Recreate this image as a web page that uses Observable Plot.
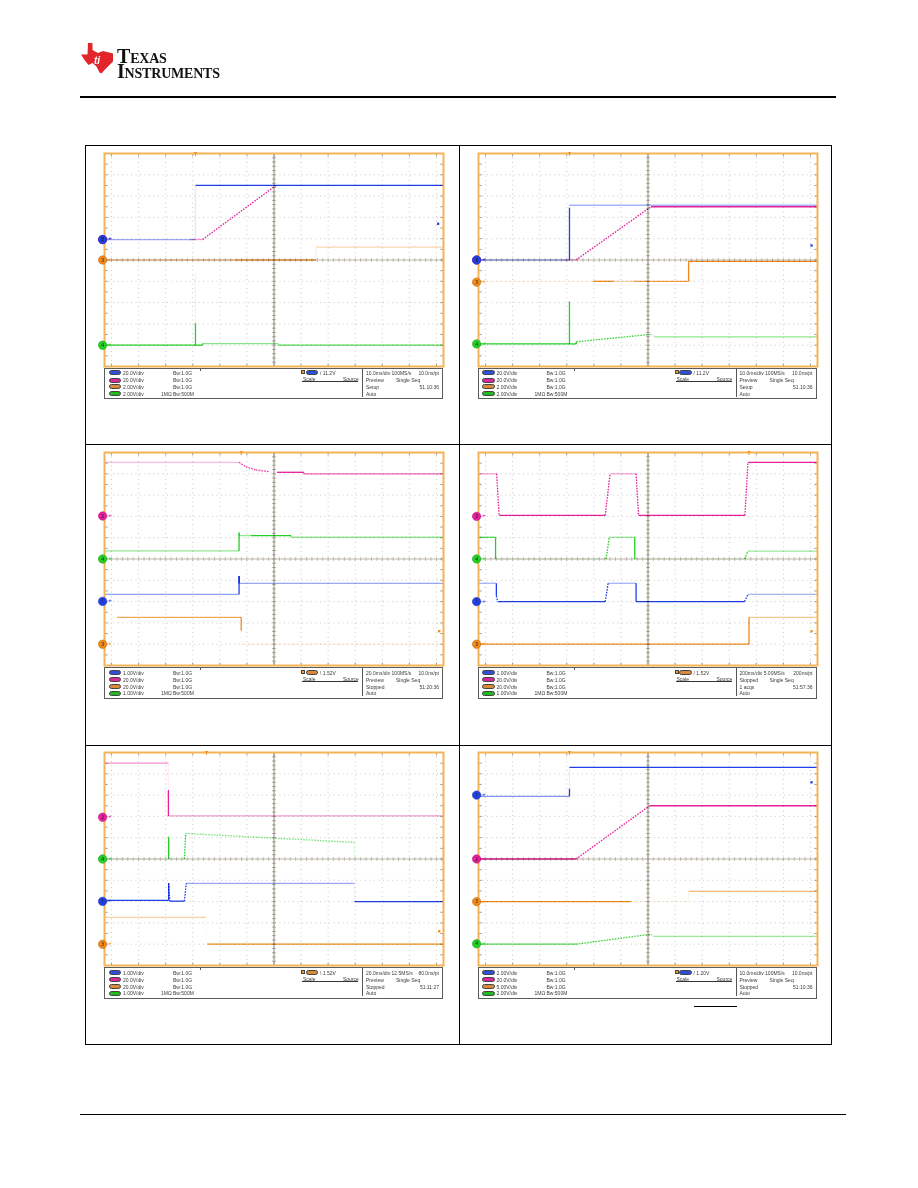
<!DOCTYPE html>
<html><head><meta charset="utf-8">
<script src="https://cdn.jsdelivr.net/npm/d3@7"></script>
<script src="https://cdn.jsdelivr.net/npm/@observablehq/plot@0.6"></script>
<style>
html,body{margin:0;padding:0;background:#fff}
#page{position:relative;width:918px;height:1188px;overflow:hidden;font-family:"Liberation Sans",Arial,sans-serif;background:#fff}
.bar{position:absolute;background:#000}
.legend{position:absolute;border:1.5px solid #5c5c5c;box-sizing:border-box;background:#fff}
.lt{position:absolute;font-size:5px;line-height:6px;color:#3a3a3a;white-space:nowrap}
.pill{position:absolute;width:12.5px;height:5px;border-radius:2.5px;box-sizing:border-box;border:0.6px solid #444}
.scope{position:absolute}
#wordmark{position:absolute;left:117px;top:49.4px;font-family:"Liberation Serif",serif;font-weight:bold;font-variant:small-caps;font-size:20px;line-height:14.4px;white-space:pre;color:#111;letter-spacing:-0.2px}
</style></head><body><div id="page"></div>
<script>
// ---------- DATA (oscilloscope divisions: x = time div from centre, y = vertical div) ----------
// each point: [x, y, persistence intensity of the segment that starts here]
const p1Ch1 = [[-6.26,0.96,0.45],[-2.9,0.96,0.12],[-2.9,3.5,1],[6.26,3.5,0]];
const p1Ch2 = [[-3.1,0.96,0.45],[-2.64,0.96,1],[0.07,3.5,0],[6.26,3.5,0]];
const p1Ch3 = [[-6.26,0,0.45],[-1.4,0,0.85],[1.55,0,0.12],[1.55,0.6,0.35],[6.26,0.6,0]];
const p1Ch4a = [[-6.26,-4,1],[-2.9,-4,1],[-2.9,-2.97,0.1],[-2.9,-0.61,0]];
const p1Ch4b = [[-2.9,-4,1],[-2.65,-4,1],[-2.65,-3.93,0.55],[0.15,-3.93,0.3],[0.15,-4,0.8],[6.26,-4,0]];

const p2Ch1 = [[-6.26,0,0.45],[-2.9,0,1],[-2.9,2.45,0.1],[-2.9,2.57,0.4],[6.26,2.57,0]];
const p2Ch2 = [[-3.1,0,0.4],[-2.66,0,1],[0.11,2.5,1],[6.26,2.5,0]];
const p2Ch3 = [[-6.26,-1.0,0.1],[-2.04,-1.0,1],[-1.27,-1.0,0.35],[-0.54,-1.0,0.8],[1.5,-1.0,1],[1.5,-0.06,1],[6.26,-0.06,0]];
const p2Ch4a = [[-6.26,-3.94,1],[-2.9,-3.94,1],[-2.9,-1.95,0]];
const p2Ch4b = [[-2.9,-3.94,1],[-2.65,-3.94,1],[-2.65,-3.84,0.9],[0.11,-3.49,0.3],[0.25,-3.61,0.5],[6.26,-3.61,0]];

const p3Ch2 = [[-6.26,4.54,0.3],[-1.29,4.54,0.9],[-1.04,4.33,0.9],[-0.67,4.18,0.9],[-0.17,4.1,0.05],[0.11,4.07,1],[1.1,4.07,0.7],[1.1,4.0,0.7],[6.26,4.0,0]];
const p3Ch4 = [[-6.26,0.38,0.5],[-1.29,0.38,1],[-1.29,1.24,0.5],[-1.29,1.1,0.5],[-0.85,1.1,1],[0.63,1.1,0.5],[0.63,1.02,0.5],[6.26,1.02,0]];
const p3Ch1 = [[-6.26,-1.66,0.5],[-1.29,-1.66,1],[-1.29,-0.8,1],[-1.29,-1.14,0.45],[6.26,-1.14,0]];
const p3Ch3 = [[-5.8,-2.74,0.75],[-1.21,-2.74,1],[-1.21,-3.37,0.05],[-1.21,-4.0,0.12],[6.26,-4.0,0]];

const p4Ch2 = [[-6.26,4.0,0.4],[-5.59,4.0,1],[-5.5,2.05,1],[-1.58,2.05,1],[-1.4,4.0,0.4],[-0.44,4.0,1],[-0.35,2.05,1],[3.58,2.05,1],[3.69,4.54,1],[6.26,4.54,0]];
const p4Ch4 = [[-6.26,1.02,0.8],[-5.63,1.02,1],[-5.63,0,0.1],[-1.55,0,1],[-1.43,1.02,0.5],[-0.49,1.02,1],[-0.49,0,0.1],[3.57,0,1],[3.69,0.37,0.45],[6.26,0.37,0]];
const p4Ch1 = [[-6.26,-1.14,0.4],[-5.6,-1.14,1],[-5.6,-1.73,1],[-5.55,-2.0,1],[-1.58,-2.0,1],[-1.47,-1.14,0.4],[-0.44,-1.14,1],[-0.44,-2.0,1],[3.57,-2.0,1],[3.69,-1.66,0.4],[6.26,-1.66,0]];
const p4Ch3 = [[-6.26,-4.0,1],[3.73,-4.0,1],[3.73,-2.74,0.45],[6.26,-2.74,0]];

const p5Ch2 = [[-6.26,4.5,0.5],[-3.9,4.5,0.08],[-3.9,3.24,1],[-3.9,2.02,0.45],[6.26,2.02,0]];
const p5Ch4 = [[-6.26,0,0.1],[-3.89,0,1],[-3.89,1.05,0.1],[-3.89,0,0.1],[-3.31,0,1],[-3.26,1.2,0.6],[2.97,0.78,0.1],[2.97,0,0]];
const p5Ch1 = [[-6.26,-1.94,1],[-3.89,-1.94,1],[-3.89,-1.14,1],[-3.85,-1.98,1],[-3.31,-1.98,1],[-3.24,-1.14,0.45],[2.97,-1.14,0.05],[2.97,-2.0,1],[6.26,-2.0,0]];
const p5Ch3 = [[-6.26,-2.74,0.4],[-2.52,-2.74,0.05],[-2.46,-4.0,1],[6.26,-4.0,0]];

const p6Ch1 = [[-6.26,2.94,0.55],[-2.9,2.94,1],[-2.9,3.3,0.1],[-2.9,4.3,1],[6.26,4.3,0]];
const p6Ch2 = [[-6.26,0,1],[-2.66,0,1],[0.06,2.5,1],[6.26,2.5,0]];
const p6Ch3 = [[-6.26,-2.0,1],[-0.63,-2.0,0.08],[1.5,-2.0,0.1],[1.5,-1.52,0.6],[6.26,-1.52,0]];
const p6Ch4 = [[-6.26,-4.0,0.8],[-2.66,-4.0,0.9],[0.11,-3.53,0.5],[0.2,-3.63,0.45],[6.26,-3.63,0]];

// channel ground markers (left) and right-side offset markers
const p1Markers = [{ch:2,y:0.96},{ch:1,y:0.96},{ch:3,y:0},{ch:4,y:-4.0}];
const p2Markers = [{ch:2,y:0},{ch:1,y:0},{ch:3,y:-1.04},{ch:4,y:-3.94}];
const p3Markers = [{ch:2,y:2.02},{ch:4,y:0},{ch:1,y:-1.99},{ch:3,y:-4.0}];
const p4Markers = [{ch:2,y:2.0},{ch:4,y:0},{ch:1,y:-2.0},{ch:3,y:-4.0}];
const p5Markers = [{ch:2,y:1.96},{ch:4,y:0},{ch:1,y:-1.99},{ch:3,y:-4.0}];
const p6Markers = [{ch:1,y:3.0},{ch:2,y:0},{ch:3,y:-2.0},{ch:4,y:-3.98}];
const rightMarkers = [{ch:1,x:6.06,y:1.7},{ch:1,x:6.04,y:0.68},{ch:3,x:6.1,y:-3.39},{ch:3,x:6.04,y:-3.39},{ch:3,x:6.1,y:-3.39},{ch:1,x:6.04,y:3.6}];
const triggerPos = [-2.9,-2.9,-1.21,3.73,-2.49,-2.9];
const triggerCh = [1,1,3,3,3,1];
const triggerLevel = ["/ 11.2V","/ 11.2V","\\ 1.52V","/ 1.52V","\\ 1.52V","/ 1.20V"];

// legend text
const p1Scales = ["20.0V/div","20.0V/div","2.00V/div","2.00V/div"];
const p2Scales = ["20.0V/div","20.0V/div","2.00V/div","2.00V/div"];
const p3Scales = ["1.00V/div","20.0V/div","20.0V/div","1.00V/div"];
const p4Scales = ["1.00V/div","20.0V/div","20.0V/div","1.00V/div"];
const p5Scales = ["1.00V/div","20.0V/div","20.0V/div","1.00V/div"];
const p6Scales = ["2.00V/div","20.0V/div","5.00V/div","2.00V/div"];
const bandwidth = ["Bw:1.0G","Bw:1.0G","Bw:1.0G","Bw:500M"];
const p1Acq = [["10.0ms/div 100MS/s","10.0ns/pt"],["Preview","Single Seq"],["Setup","51.10:36"],["Auto",""]];
const p2Acq = [["10.0ms/div 100MS/s","10.0ns/pt"],["Preview","Single Seq"],["Setup","51.10:36"],["Auto",""]];
const p3Acq = [["20.0ms/div 100MS/s","10.0ns/pt"],["Preview","Single Seq"],["Stopped","51:20:36"],["Auto",""]];
const p4Acq = [["200ms/div 5.00MS/s","200ns/pt"],["Stopped","Single Seq"],["1 acqs","51:57:36"],["Auto",""]];
const p5Acq = [["20.0ms/div 12.5MS/s","80.0ns/pt"],["Preview","Single Seq"],["Stopped","51:11:27"],["Auto",""]];
const p6Acq = [["10.0ms/div 100MS/s","10.0ns/pt"],["Preview","Single Seq"],["Stopped","51:10:36"],["Auto",""]];

// ---------- RENDER ----------
const CH = {1:"#1f40e8",2:"#e8209c",3:"#f28a1a",4:"#24d024"};
const PILL = {1:"#2f4fd8",2:"#d42a96",3:"#d8893a",4:"#22b822"};
const shade = (ch,k) => d3.interpolateRgb("#ffffff", CH[ch])(Math.min(1,k));

const panels = [
  {traces:[{ch:3,pts:p1Ch3},{ch:4,pts:p1Ch4a},{ch:4,pts:p1Ch4b},{ch:2,pts:p1Ch2},{ch:1,pts:p1Ch1}], markers:p1Markers, scales:p1Scales, acq:p1Acq},
  {traces:[{ch:3,pts:p2Ch3},{ch:4,pts:p2Ch4a},{ch:4,pts:p2Ch4b},{ch:1,pts:p2Ch1},{ch:2,pts:p2Ch2}], markers:p2Markers, scales:p2Scales, acq:p2Acq},
  {traces:[{ch:3,pts:p3Ch3},{ch:1,pts:p3Ch1},{ch:4,pts:p3Ch4},{ch:2,pts:p3Ch2}], markers:p3Markers, scales:p3Scales, acq:p3Acq},
  {traces:[{ch:3,pts:p4Ch3},{ch:1,pts:p4Ch1},{ch:4,pts:p4Ch4},{ch:2,pts:p4Ch2}], markers:p4Markers, scales:p4Scales, acq:p4Acq},
  {traces:[{ch:3,pts:p5Ch3},{ch:1,pts:p5Ch1},{ch:4,pts:p5Ch4},{ch:2,pts:p5Ch2}], markers:p5Markers, scales:p5Scales, acq:p5Acq},
  {traces:[{ch:3,pts:p6Ch3},{ch:4,pts:p6Ch4},{ch:2,pts:p6Ch2},{ch:1,pts:p6Ch1}], markers:p6Markers, scales:p6Scales, acq:p6Acq}
];

const page = document.getElementById("page");
function box(l,t,w,h,cls,style){const d=document.createElement("div");d.className=cls||"bar";Object.assign(d.style,{left:l+"px",top:t+"px",width:w+"px",height:h+"px"},style||{});page.appendChild(d);return d;}
function txt(parent,l,t,s,extra){const d=document.createElement("div");d.className="lt";d.textContent=s;Object.assign(d.style,{left:l+"px",top:t+"px"},extra||{});parent.appendChild(d);return d;}

// header
page.insertAdjacentHTML("beforeend",`
<svg style="position:absolute;left:0;top:0" width="116" height="90">
 <polygon fill="#e2242b" points="88,43 92.5,43 92.5,50 98,53 103,51 107,52 113,53.5 113,61.5 108.5,66 104.5,70 101.5,73.5 99.5,72.5 96.5,66.5 92.5,63 88.5,65 84.5,60 81,54.5 87.5,54.5"/>
 <text x="94" y="64" font-size="10" font-style="italic" font-weight="bold" fill="#fff" font-family="Liberation Sans">ti</text>
</svg>`);
const wm = document.createElement("div"); wm.id = "wordmark"; wm.textContent = "Texas\nInstruments"; page.appendChild(wm);
box(80,96,756,2);
box(80,1114,766,1);

// table frame
box(85,145,747,900,"bar",{background:"transparent",border:"1px solid #000",boxSizing:"border-box"});
box(459,145,1,900);
box(85,444,747,1);
box(85,745,747,1);
box(694,1006,43,1);

const colsX = [104,477.5], rowsY = [152.5,452.3,752.3];
const FW = 339, FH = 213, ML = 8, MR = 6, MT = 3, MB = 3;

panels.forEach((p,i) => {
  const fl = colsX[i%2], ft = rowsY[Math.floor(i/2)];
  const marks = [];
  marks.push(Plot.ruleX(d3.range(-6,7).filter(v=>v!==0),{stroke:"#bdbdbd",strokeWidth:0.8,strokeDasharray:"1,3.5"}));
  marks.push(Plot.ruleY([-4,-3,-2,-1,1,2,3,4],{stroke:"#bdbdbd",strokeWidth:0.8,strokeDasharray:"1,3.5"}));
  marks.push(Plot.ruleX([0],{stroke:"#8c8474",strokeWidth:1}));
  marks.push(Plot.ruleY([0],{stroke:"#bdb6aa",strokeWidth:1}));
  const cy = d3.range(-25,26).map(v=>v/5), cx = d3.range(-31,32).map(v=>v/5);
  marks.push(Plot.link(cy,{x1:-0.07,x2:0.07,y1:d=>d,y2:d=>d,stroke:"#8c8474",strokeWidth:0.7}));
  marks.push(Plot.link(cx,{y1:-0.09,y2:0.09,x1:d=>d,x2:d=>d,stroke:"#aaa292",strokeWidth:0.7}));
  const ey = d3.range(-9,10).map(v=>v/2), ex = d3.range(-6,7);
  marks.push(Plot.link(ey,{x1:-6.26,x2:-6.14,y1:d=>d,y2:d=>d,stroke:"#8c8474",strokeWidth:0.8}));
  marks.push(Plot.link(ey,{x1:6.26,x2:6.14,y1:d=>d,y2:d=>d,stroke:"#8c8474",strokeWidth:0.8}));
  marks.push(Plot.link(ex,{y1:5,y2:4.86,x1:d=>d,x2:d=>d,stroke:"#8c8474",strokeWidth:0.8}));
  marks.push(Plot.link(ex,{y1:-5,y2:-4.86,x1:d=>d,x2:d=>d,stroke:"#8c8474",strokeWidth:0.8}));
  for (const t of p.traces) {
    const segs = [];
    for (let j=0;j<t.pts.length-1;j++){
      const [x1,y1,k]=t.pts[j], [x2,y2]=t.pts[j+1];
      if (k<0.02) continue;
      segs.push({x1,y1,x2,y2,c:shade(t.ch,k),sloped:(x1!==x2&&y1!==y2)});
    }
    marks.push(Plot.link(segs.filter(s=>!s.sloped),{x1:"x1",y1:"y1",x2:"x2",y2:"y2",stroke:"c",strokeWidth:1.3,mixBlendMode:"multiply"}));
    marks.push(Plot.link(segs.filter(s=>s.sloped),{x1:"x1",y1:"y1",x2:"x2",y2:"y2",stroke:"c",strokeWidth:1.3,strokeDasharray:"1.6,1.2",mixBlendMode:"multiply"}));
  }
  marks.push(Plot.frame({stroke:"#f4b456",strokeWidth:2}));
  marks.push(Plot.dot(p.markers,{x:()=>-6.33,y:"y",r:4.2,fill:d=>CH[d.ch],stroke:d=>d3.color(CH[d.ch]).darker(0.6).formatHex(),strokeWidth:0.6}));
  marks.push(Plot.text(p.markers,{x:()=>-6.33,y:"y",text:d=>String(d.ch),fontSize:5,fill:"#222"}));
  marks.push(Plot.text(p.markers,{x:()=>-6.06,y:"y",text:()=>"+",fontSize:6,fill:d=>CH[d.ch],fontWeight:"bold"}));
  marks.push(Plot.dot([rightMarkers[i]],{x:"x",y:"y",symbol:"square",r:1.3,fill:d=>CH[d.ch]}));
  marks.push(Plot.text([triggerPos[i]],{x:d=>d,y:()=>5,text:()=>"T",fontSize:6,fontWeight:"bold",fill:"#f28a1a",dy:1}));
  const plot = Plot.plot({
    width: FW+ML+MR, height: FH+MT+MB, marginLeft: ML, marginRight: MR, marginTop: MT, marginBottom: MB,
    x:{domain:[-6.26,6.26],axis:null}, y:{domain:[-5,5],axis:null}, color:{type:"identity"},
    style:{background:"transparent",overflow:"visible"},
    marks
  });
  plot.classList.add("scope");
  plot.style.left = (fl-ML)+"px"; plot.style.top = (ft-MT)+"px";
  page.appendChild(plot);

  // legend box
  const lg = box(fl, ft+215, FW, 31.5, "legend");
  const rowT = [1.3,8.7,15.3,22];
  p.scales.forEach((s,r) => {
    const pl = document.createElement("div"); pl.className="pill";
    Object.assign(pl.style,{left:"3.5px",top:(rowT[r]+0.4)+"px",background:PILL[r+1]}); lg.appendChild(pl);
    txt(lg,18,rowT[r],s);
    txt(lg,68,rowT[r],bandwidth[r]);
    if (r===3) txt(lg,56,rowT[r],"1MΩ");
  });
  const tb = document.createElement("div"); tb.className="pill";
  Object.assign(tb.style,{left:"196px",top:"1.5px",width:"4px",height:"4px",borderRadius:"0",background:"#f0a020"}); lg.appendChild(tb);
  const tp = document.createElement("div"); tp.className="pill";
  Object.assign(tp.style,{left:"200.5px",top:"1.6px",background:PILL[triggerCh[i]]}); lg.appendChild(tp);
  txt(lg,215,rowT[0],triggerLevel[i]);
  txt(lg,198,rowT[1]-0.8,"Scale");
  txt(lg,238,rowT[1]-0.8,"Source");
  const ul = document.createElement("div"); Object.assign(ul.style,{position:"absolute",left:"197px",top:"12.3px",width:"56px",height:"0.8px",background:"#333"}); lg.appendChild(ul);
  const vs = document.createElement("div"); Object.assign(vs.style,{position:"absolute",left:"257px",top:"0",width:"0.8px",height:"28px",background:"#555"}); lg.appendChild(vs);
  const vs2 = document.createElement("div"); Object.assign(vs2.style,{position:"absolute",left:"95px",top:"0",width:"0.8px",height:"2px",background:"#555"}); lg.appendChild(vs2);
  p.acq.forEach((row,r) => {
    txt(lg,261,rowT[r],row[0]);
    if (row[1]) { if (r===1) txt(lg,291,rowT[r],row[1]); else txt(lg,0,rowT[r],row[1],{left:"auto",right:"3px"}); }
  });
});
</script></body></html>
